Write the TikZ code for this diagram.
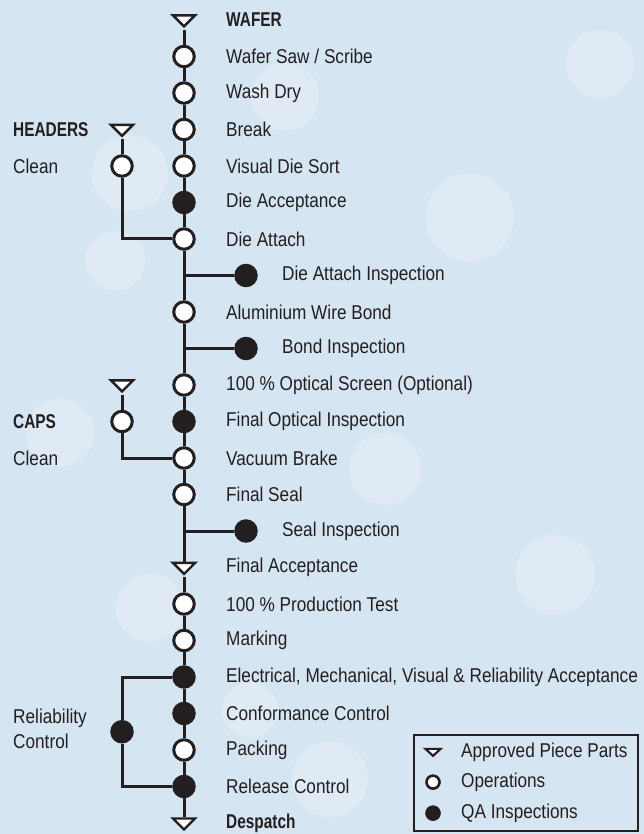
\documentclass[tikz,border=0pt]{standalone}
\usepackage{fontspec}
\setmainfont{Liberation Sans}[FakeStretch=0.86]
\newfontfamily\hdrfont{Liberation Sans}[FakeStretch=0.77]
\usetikzlibrary{shapes.geometric}
\definecolor{ink}{HTML}{231F20}
\definecolor{sky}{RGB}{214,229,242}
\tikzset{
  op/.style={circle, draw=ink, line width=3pt, fill=white, minimum size=20.5pt, inner sep=0pt},
  qa/.style={op, fill=ink},
  part/.style={isosceles triangle, isosceles triangle stretches, shape border rotate=270,
    minimum width=22pt, minimum height=11pt, draw=ink, line width=2.4pt, fill=white, inner sep=0pt},
  flow/.style={draw=ink, line width=3pt},
  lbl/.style={anchor=west, inner sep=0pt, text=ink, font=\fontsize{20}{25}\selectfont},
  hdr/.style={lbl, font=\fontsize{20}{25}\selectfont\hdrfont\bfseries},
  keyop/.style={op, line width=2.6pt, minimum size=13pt},
  keyqa/.style={keyop, fill=ink},
  keypart/.style={part, minimum width=15pt, minimum height=7pt, line width=2.2pt}
}
\begin{document}
\begin{tikzpicture}[x=1pt, y=-36.5pt]
    \useasboundingbox (0,{-20/36.5}) rectangle (644,{814/36.5});
    \fill[sky] (0,{-20/36.5}) rectangle (644,{814/36.5});
    % soft light spots
    \foreach \px/\py/\r in {130/4.2/38, 285/2.1/34, 60/11.3/34, 115/6.6/30, 470/5.4/44,
        385/12.3/36, 555/15.2/40, 150/16.1/34, 330/20.8/38, 600/1.2/34, 250/18.9/28}
      \fill[white, opacity=.22] (\px,\py) circle (\r pt);

    % main column
    \node[part] (p0)  at (184,0)  {};
    \node[op]   (c1)  at (184,1)  {};
    \node[op]   (c2)  at (184,2)  {};
    \node[op]   (c3)  at (184,3)  {};
    \node[op]   (c4)  at (184,4)  {};
    \node[qa]   (c5)  at (184,5)  {};
    \node[op]   (c6)  at (184,6)  {};
    \coordinate (j7)  at (184,7);
    \node[op]   (c8)  at (184,8)  {};
    \coordinate (j9)  at (184,9);
    \node[op]   (c10) at (184,10) {};
    \node[qa]   (c11) at (184,11) {};
    \node[op]   (c12) at (184,12) {};
    \node[op]   (c13) at (184,13) {};
    \coordinate (j14) at (184,14);
    \node[part] (p15) at (184,15) {};
    \node[op]   (c16) at (184,16) {};
    \node[op]   (c17) at (184,17) {};
    \node[qa]   (c18) at (184,18) {};
    \node[qa]   (c19) at (184,19) {};
    \node[op]   (c20) at (184,20) {};
    \node[qa]   (c21) at (184,21) {};
    \node[part] (p22) at (184,22) {};

    % inspections off the column
    \node[qa] (q7)  at (246,7)  {};
    \node[qa] (q9)  at (246,9)  {};
    \node[qa] (q14) at (246,14) {};

    % headers, caps, reliability
    \node[part] (hp) at (122,3)  {};
    \node[op]   (hc) at (122,4)  {};
    \node[part] (kp) at (122,10) {};
    \node[op]   (kc) at (122,11) {};
    \node[qa]   (rc) at (122,19.5) {};

    \draw[flow] (p0) -- (c1) -- (c2) -- (c3) -- (c4) -- (c5) -- (c6) -- (c8) -- (c10)
      -- (c11) -- (c12) -- (c13) -- (p15) -- (c16) -- (c17) -- (c18) -- (c19) -- (c20)
      -- (c21) -- (p22);
    \draw[flow] (j7) -- (q7);
    \draw[flow] (j9) -- (q9);
    \draw[flow] (j14) -- (q14);
    \draw[flow] (hp) -- (hc);
    \draw[flow] (hc) |- (c6);
    \draw[flow] (kp) -- (kc);
    \draw[flow] (kc) |- (c12);
    \draw[flow] (c18) -| (rc);
    \draw[flow] (rc) |- (c21);

    % labels
    \node[hdr] (l0)  at (226,0)  {WAFER};
    \node[lbl] (l1)  at (226,1)  {Wafer Saw / Scribe};
    \node[lbl] (l2)  at (226,2)  {Wash Dry};
    \node[lbl] (l3)  at (226,3)  {Break};
    \node[lbl] (l4)  at (226,4)  {Visual Die Sort};
    \node[lbl] (l5)  at (226,5)  {Die Acceptance};
    \node[lbl] (l6)  at (226,6)  {Die Attach};
    \node[lbl] (l7)  at (282,7)  {Die Attach Inspection};
    \node[lbl] (l8)  at (226,8)  {Aluminium Wire Bond};
    \node[lbl] (l9)  at (282,9)  {Bond Inspection};
    \node[lbl] (l10) at (226,10) {100 \% Optical Screen (Optional)};
    \node[lbl] (l11) at (226,11) {Final Optical Inspection};
    \node[lbl] (l12) at (226,12) {Vacuum Brake};
    \node[lbl] (l13) at (226,13) {Final Seal};
    \node[lbl] (l14) at (282,14) {Seal Inspection};
    \node[lbl] (l15) at (226,15) {Final Acceptance};
    \node[lbl] (l16) at (226,16) {100 \% Production Test};
    \node[lbl] (l17) at (226,17) {Marking};
    \node[lbl] (l18) at (226,18) {Electrical, Mechanical, Visual \& Reliability Acceptance};
    \node[lbl] (l19) at (226,19) {Conformance Control};
    \node[lbl] (l20) at (226,20) {Packing};
    \node[lbl] (l21) at (226,21) {Release Control};
    \node[hdr] (l22) at (226,22) {Despatch};

    \node[hdr] (hl) at (13,3)  {HEADERS};
    \node[lbl] (hk) at (13,4)  {Clean};
    \node[hdr] (kl) at (13,11) {CAPS};
    \node[lbl] (kk) at (13,12) {Clean};
    \node[lbl, align=left] (rl) at (13,19.42) {Reliability\\Control};

    % key
    \draw[ink, line width=1.3pt] (414,19.59) rectangle (638,22.22);
    \node[keypart] (kp1) at (433,20.05) {};
    \node[keyop]   (ko1) at (433,20.88) {};
    \node[keyqa]   (kq1) at (433,21.73) {};
    \node[lbl] (kt1) at (461,20.05) {Approved Piece Parts};
    \node[lbl] (kt2) at (461,20.88) {Operations};
    \node[lbl] (kt3) at (461,21.73) {QA Inspections};
\end{tikzpicture}
\end{document}
